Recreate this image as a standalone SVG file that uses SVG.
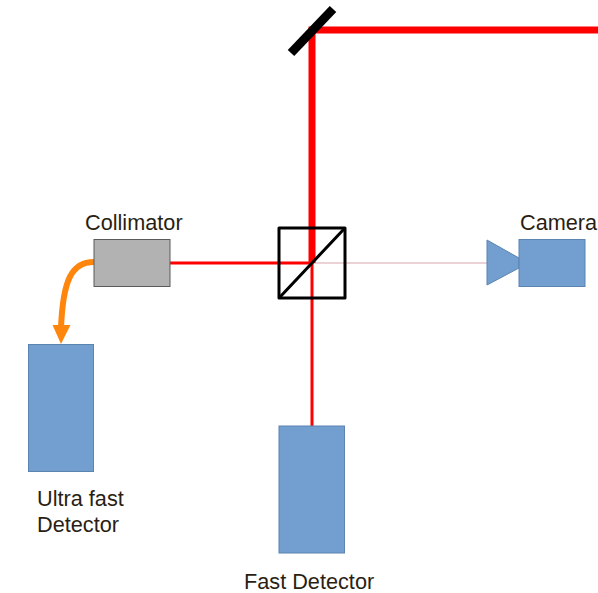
<svg xmlns="http://www.w3.org/2000/svg" width="598" height="593" viewBox="0 0 598 593">
<style>
.t{font-family:"Liberation Sans",Arial,sans-serif;font-size:21.7px;fill:#2a1e12}
.b{fill:#729fcf;stroke:#5b84b1;stroke-width:1}
.k{stroke:#000;fill:none;stroke-linecap:round;stroke-linejoin:round}
.r{stroke:#f00;fill:none}
</style>
<rect width="598" height="593" fill="#fff"/>
<g id="connectors">
<path d="M312 263H487" stroke="#e3c3c8" stroke-width="1.300" fill="none"/>
<path class="r" d="M598 30H312V263" stroke-width="7"/>
<path class="r" d="M170 263H312V426" stroke-width="3"/>
<path d="M94 262C72 262 63 279 61 328" fill="none" stroke="#ff860d" stroke-width="6"/>
<path d="M52.500 325L70.500 325L61 344Z" fill="#ff860d"/>
</g>
<g id="mirror"><path d="M291 53L333 9" stroke="#000" stroke-width="9" stroke-linecap="butt" fill="none"/></g>
<g id="beamsplitter"><rect class="k" x="279" y="228" width="66" height="70" stroke-width="3"/><path class="k" d="M280 297L344 229" stroke-width="3"/></g>
<g id="collimator"><rect x="94" y="239.500" width="76" height="47" fill="#b2b2b2" stroke="#5a5a5a"/><text class="t" x="85" y="230">Collimator</text></g>
<g id="camera"><path class="b" d="M487 240L519 258V268L487 285Z"/><rect class="b" x="519" y="239.500" width="66" height="47"/><text class="t" x="520" y="230">Camera</text></g>
<g id="ultra-fast-detector"><rect class="b" x="28.500" y="344.500" width="65" height="127"/><text class="t"><tspan x="37" y="506">Ultra fast</tspan><tspan x="37" y="532">Detector</tspan></text></g>
<g id="fast-detector"><rect class="b" x="279" y="426" width="65.500" height="127"/><text class="t" x="244" y="589">Fast Detector</text></g>
</svg>
